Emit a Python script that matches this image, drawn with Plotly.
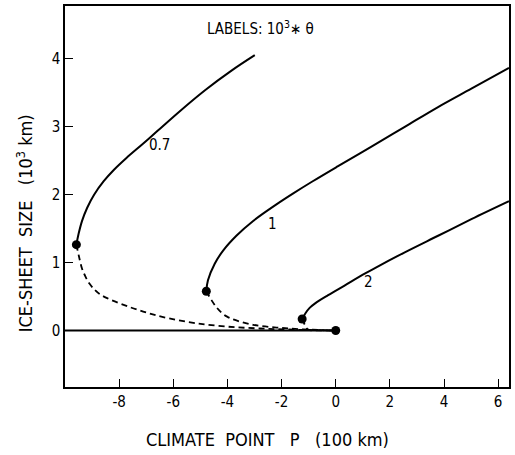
import plotly.graph_objects as go

# Stable (solid) upper branches, labelled by 10^3 * theta
x_07 = [-9.58, -9.50, -9.37, -9.18, -8.92, -8.57, -8.19, -7.74, -7.12, -6.58, -5.79, -4.84, -3.85, -2.99]
y_07 = [1.262, 1.418, 1.612, 1.805, 2.000, 2.195, 2.364, 2.533, 2.745, 2.935, 3.213, 3.528, 3.820, 4.047]
x_1 = [-4.78, -4.72, -4.47, -4.16, -3.67, -3.05, -2.19, -1.54, -0.85, 0.07, 1.32, 2.55, 3.78, 5.01, 6.40]
y_1 = [0.578, 0.738, 0.981, 1.175, 1.393, 1.611, 1.854, 2.023, 2.194, 2.412, 2.703, 2.994, 3.285, 3.555, 3.86]
x_2 = [-1.24, -1.112, -0.964, -0.761, -0.281, 0.34, 1.07, 1.50, 2.55, 3.78, 5.01, 6.40]
y_2 = [0.170, 0.258, 0.333, 0.400, 0.520, 0.665, 0.835, 0.930, 1.150, 1.393, 1.636, 1.90]

# Unstable (dashed) lower branches
xd_07 = [-9.58, -9.49, -9.37, -9.239, -9.091, -8.906, -8.722, -8.445, -7.64, -6.90, -6.17,
         -5.20, -4.04, -2.80, -1.50, 0.0]
yd_07 = [1.262, 1.10, 0.908, 0.789, 0.687, 0.600, 0.537, 0.476, 0.349, 0.253, 0.180,
         0.110, 0.058, 0.030, 0.012, 0.0]
xd_1 = [-4.78, -4.59, -4.411, -4.215, -4.012, -3.753, -3.05, -2.19, -1.20, 0.0]
yd_1 = [0.578, 0.447, 0.345, 0.261, 0.204, 0.159, 0.083, 0.044, 0.018, 0.0]
xd_2 = [-1.24, -1.14, -1.02, -0.50, 0.0]
yd_2 = [0.170, 0.083, 0.015, 0.003, 0.0]

# Ice-free branch
x_zero = [-10.0, 0.0]
y_zero = [0.0, 0.0]

# Turning points and bifurcation point
x_dots = [-9.58, -4.78, -1.24, 0.0]
y_dots = [1.262, 0.578, 0.170, 0.0]

label_text = ["0.7", "1", "2"]
label_x = [-6.5, -2.35, 1.22]
label_y = [2.72, 1.57, 0.72]

x_ticks = [-8, -6, -4, -2, 0, 2, 4, 6]
y_ticks = [0, 1, 2, 3, 4]

FONT = "Liberation Sans Narrow, DejaVu Sans Condensed, DejaVu Sans"

fig = go.Figure()
solid = dict(color="black", width=2)
dashed = dict(color="black", width=1.8, dash="6px,4px")
for xs, ys in [(x_07, y_07), (x_1, y_1), (x_2, y_2), (x_zero, y_zero)]:
    fig.add_trace(go.Scatter(x=xs, y=ys, mode="lines",
                             line=dict(solid, shape="spline", smoothing=1.0),
                             showlegend=False, hoverinfo="skip"))
for xs, ys in [(xd_07, yd_07), (xd_1, yd_1), (xd_2, yd_2)]:
    fig.add_trace(go.Scatter(x=xs, y=ys, mode="lines",
                             line=dict(dashed, shape="spline", smoothing=1.0),
                             showlegend=False, hoverinfo="skip"))
fig.add_trace(go.Scatter(x=x_dots, y=y_dots, mode="markers",
                         marker=dict(color="black", size=9), showlegend=False,
                         hoverinfo="skip"))

for t, lx, ly in zip(label_text, label_x, label_y):
    fig.add_annotation(x=lx, y=ly, text=t, showarrow=False,
                       font=dict(family=FONT, size=15, color="black"))

fig.add_annotation(x=-2.79, y=4.45, text="LABELS: 10<sup>3</sup>\u2217 \u03b8", showarrow=False,
                   font=dict(family=FONT, size=15, color="black"))

fig.add_annotation(xref="paper", yref="paper", x=-0.09, y=0.43,
                   text="ICE-SHEET\u00a0\u00a0SIZE\u00a0\u00a0\u00a0(10<sup>3</sup>\u00a0km)",
                   textangle=-90, showarrow=False, xanchor="center", yanchor="middle",
                   font=dict(family=FONT, size=18, color="black"))
fig.add_annotation(xref="paper", yref="paper", x=0.455, y=-0.138,
                   text="CLIMATE\u00a0\u00a0POINT\u00a0\u00a0\u00a0P\u00a0\u00a0\u00a0(100\u00a0km)",
                   showarrow=False, xanchor="center", yanchor="middle",
                   font=dict(family=FONT, size=18, color="black"))

axis_common = dict(showgrid=False, zeroline=False, showline=True, linecolor="black",
                   linewidth=1.5, mirror=True, ticks="inside", ticklen=8, tickwidth=1.2,
                   tickcolor="black", tickfont=dict(family=FONT, size=15, color="black"))
fig.update_xaxes(range=[-10.0, 6.4], tickvals=x_ticks, ticktext=[str(v) for v in x_ticks],
                 **axis_common)
fig.update_yaxes(range=[-0.83, 4.77], tickvals=y_ticks, ticktext=[str(v) for v in y_ticks],
                 **axis_common)
fig.update_layout(width=515, height=455, margin=dict(l=65, r=4, t=6, b=68),
                  plot_bgcolor="white", paper_bgcolor="white")
fig.write_html("out.html", config={"displayModeBar": False},
               post_script="document.body.style.margin='0';")
